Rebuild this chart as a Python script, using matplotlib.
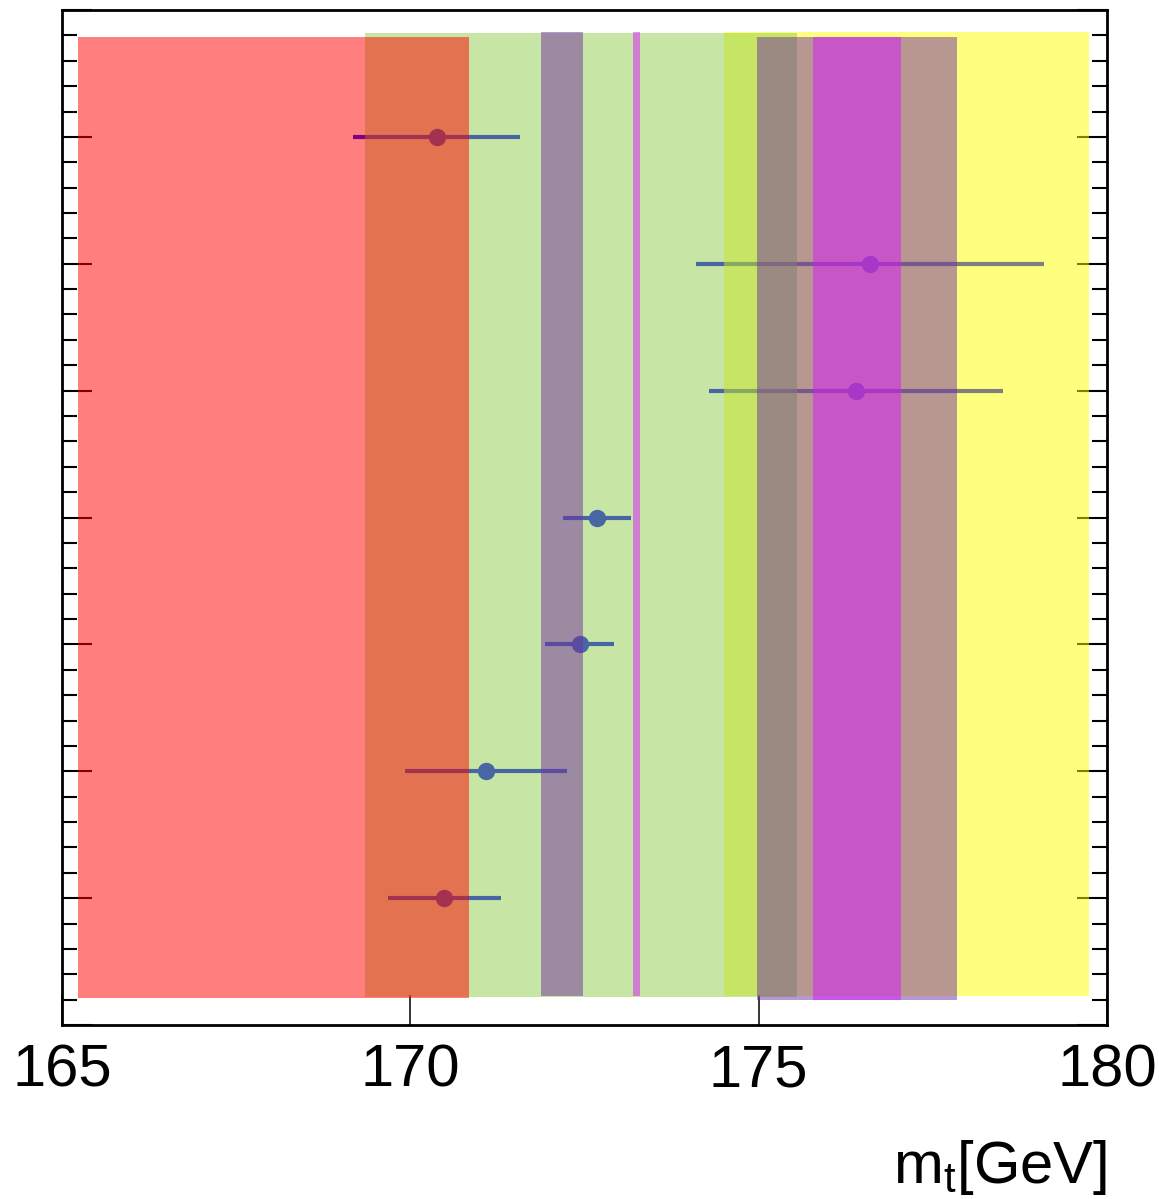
import numpy as np
import matplotlib
matplotlib.use("Agg")
import matplotlib.pyplot as plt
from matplotlib.ticker import MultipleLocator

plt.rcParams["font.family"] = ["Liberation Sans", "DejaVu Sans"]
plt.rcParams["mathtext.fontset"] = "custom"
plt.rcParams["mathtext.rm"] = "Liberation Sans"
plt.rcParams["mathtext.it"] = "Liberation Sans:italic"

# measurements (top to bottom rows at y = 7 ... 1)
meas_y = [7, 6, 5, 4, 3, 2, 1]
meas_mt = [170.38, 176.60, 176.40, 172.68, 172.43, 171.09, 170.49]
meas_err = [1.20, 2.50, 2.11, 0.49, 0.49, 1.16, 0.81]

# vertical bands: drawn in this order, each semi transparent
band_names = ["yellow", "green", "purple_a", "purple_b", "magenta_a", "magenta_b", "red"]
band_xlo = [174.50, 169.35, 171.88, 174.98, 173.20, 175.78, 165.23]
band_xhi = [179.74, 175.55, 172.48, 177.85, 173.30, 177.04, 170.84]
band_ylo = [0.229, 0.220, 0.229, 0.197, 0.229, 0.197, 0.213]
band_yhi = [7.825, 7.820, 7.830, 7.790, 7.825, 7.790, 7.790]
band_colors = ["#ffff00", "#91cd4b", "#7131a1", "#7131a1", "#d818ff", "#d818ff", "#ff0000"]

fig = plt.figure(figsize=(11.59, 11.99), dpi=100)
ax = fig.add_axes([62 / 1159, 174 / 1199, 1045 / 1159, 1015 / 1199])

# points sit underneath the bands
ax.errorbar(meas_mt, meas_y, xerr=meas_err, fmt="o", color="#0000ff",
            ms=11.5, lw=3, capsize=0, zorder=1)

for i in range(len(band_names)):
    ax.fill_between([band_xlo[i], band_xhi[i]], band_ylo[i], band_yhi[i],
                    color=band_colors[i], alpha=0.5, lw=0, zorder=2 + i)

ax.set_xlim(165, 180)
ax.set_ylim(0, 8)
ax.set_axisbelow(True)

ax.set_xticks([165, 170, 175, 180])
ax.xaxis.set_minor_locator(plt.NullLocator())
ax.yaxis.set_major_locator(MultipleLocator(1))
ax.yaxis.set_minor_locator(MultipleLocator(0.2))
ax.tick_params(axis="x", which="major", direction="in", length=21.6, width=1.1,
               labelsize=43, pad=13, top=False)
ax.tick_params(axis="y", which="major", direction="in", length=21.6, width=1.5,
               left=True, right=True, labelleft=False)
ax.tick_params(axis="y", which="minor", direction="in", length=10.8, width=1.5,
               left=True, right=True)

for s in ax.spines.values():
    s.set_linewidth(2)
    s.set_zorder(20)

ax.text(1.0, -0.1557, r"m$_\mathrm{t}$[GeV]", transform=ax.transAxes,
        ha="right", va="baseline", fontsize=43)

fig.savefig("out.png", dpi=100)
